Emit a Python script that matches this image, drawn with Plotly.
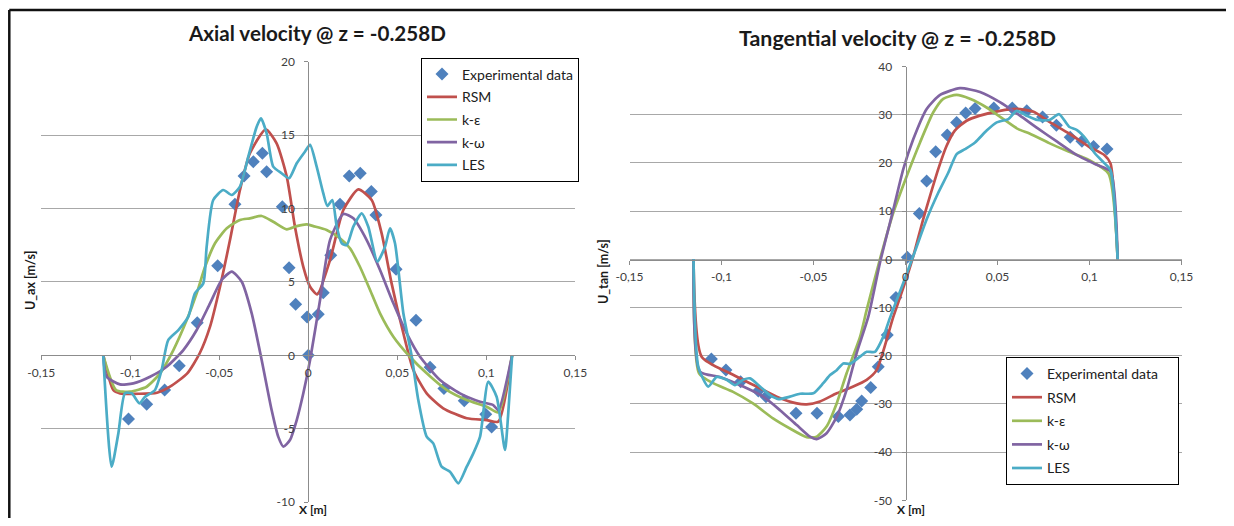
import plotly.graph_objects as go

# ---------------- data ----------------
series_names = ["Experimental data", "RSM", "k-ε", "k-ω", "LES"]
series_colors = ["#4F81BD", "#C0504D", "#9BBB59", "#8064A2", "#4BACC6"]

x_tick_vals = [-0.15, -0.1, -0.05, 0, 0.05, 0.1, 0.15]
x_tick_text = ["-0,15", "-0,1", "-0,05", "0", "0,05", "0,1", "0,15"]
ax_y_tick_vals = [-10, -5, 0, 5, 10, 15, 20]
ax_y_tick_text = ["-10", "-5", "0", "5", "10", "15", "20"]
tan_y_tick_vals = [-50, -40, -30, -20, -10, 0, 10, 20, 30, 40]
tan_y_tick_text = ["-50", "-40", "-30", "-20", "-10", "0", "10", "20", "30", "40"]

# Axial velocity
ax_exp_x = [-0.101, -0.0908, -0.0807, -0.0725, -0.0624, -0.0509, -0.0412, -0.0361, -0.0309, -0.0258,
            -0.0234, -0.0146, -0.0108, -0.0071, -0.0007, 0.0, 0.0056, 0.0084, 0.0126, 0.0178,
            0.0230, 0.0292, 0.0354, 0.0380, 0.0493, 0.0605, 0.0684, 0.0762, 0.0876, 0.0997, 0.1030]
ax_exp_y = [-4.34, -3.34, -2.36, -0.71, 2.22, 6.10, 10.29, 12.21, 13.19, 13.76,
            12.51, 10.12, 5.97, 3.47, 2.61, 0.0, 2.79, 4.26, 6.81, 10.29,
            12.21, 12.40, 11.15, 9.56, 5.86, 2.38, -0.82, -2.27, -3.09, -4.02, -4.88]

ax_rsm_x = [-0.1152, -0.1096, -0.1058, -0.095, -0.085, -0.0777, -0.068, -0.061, -0.0552, -0.0496,
            -0.044, -0.0384, -0.0328, -0.0239, -0.0178, -0.0121, -0.0075, -0.0028, 0.0010, 0.0050,
            0.0122, 0.0197, 0.0281, 0.0356, 0.0412, 0.0468, 0.0534, 0.0590, 0.0665, 0.0758,
            0.0890, 0.1002, 0.1067, 0.1145]
ax_rsm_y = [0, -2.36, -2.59, -2.62, -2.55, -2.14, -1.23, 0.14, 1.95, 4.67,
            7.85, 11.26, 13.76, 15.39, 14.44, 12.17, 8.76, 6.03, 4.67, 4.15,
            6.49, 9.9, 11.3, 10.58, 8.31, 4.9, 1.5, -1.0, -2.59, -3.61,
            -4.29, -4.41, -4.52, 0]

ax_ke_x = [-0.1152, -0.108, -0.1002, -0.0908, -0.0833, -0.0758, -0.0683, -0.0627, -0.058, -0.0524,
           -0.0458, -0.0384, -0.0328, -0.0262, -0.0197, -0.0121, -0.0065, -0.0009, 0.0028, 0.0103,
           0.0178, 0.0234, 0.029, 0.0347, 0.0403, 0.0478, 0.0571, 0.0665, 0.0777, 0.089,
           0.1002, 0.1067, 0.1145]
ax_ke_y = [0, -2.36, -2.48, -2.14, -1.23, 0.36, 2.4, 4.22, 6.03, 7.63,
           8.65, 9.22, 9.33, 9.49, 9.1, 8.58, 8.8, 8.92, 8.8, 8.54,
           7.97, 7.29, 6.03, 4.45, 2.86, 1.27, -0.1, -1.23, -2.36, -3.05,
           -3.5, -3.88, 0]

ax_kw_x = [-0.1152, -0.1133, -0.1058, -0.0983, -0.0889, -0.0796, -0.0702, -0.0627, -0.0552, -0.0487,
           -0.043, -0.0374, -0.0318, -0.0262, -0.0206, -0.0169, -0.014, -0.0103, -0.0065, -0.0028,
           0.001, 0.0066, 0.0122, 0.0197, 0.0253, 0.0328, 0.0403, 0.0478, 0.0553, 0.0628,
           0.074, 0.0852, 0.0965, 0.1039, 0.1067, 0.1145]
ax_kw_y = [0, -1.46, -1.98, -1.91, -1.46, -0.78, 0.36, 1.72, 3.54, 5.13,
           5.7, 5.01, 2.86, -0.32, -3.73, -5.54, -6.22, -5.77, -4.41, -2.59,
           -0.32, 3.77, 7.85, 9.63, 9.33, 7.85, 5.81, 3.54, 1.5, -0.1,
           -1.68, -2.59, -3.16, -3.39, -3.73, 0]

ax_les_x = [-0.1152, -0.1105, -0.1067, -0.103, -0.0992, -0.0949, -0.0917, -0.0861, -0.0824, -0.0787,
            -0.073, -0.0674, -0.0637, -0.059, -0.0571, -0.0534, -0.0478, -0.043, -0.0384, -0.0337,
            -0.029, -0.0266, -0.0234, -0.0197, -0.015, -0.0108, -0.0065, -0.0019, 0.001, 0.0047,
            0.0084, 0.0107, 0.0135, 0.016, 0.0188, 0.0216, 0.0253, 0.03, 0.0337, 0.0388,
            0.0431, 0.0459, 0.0487, 0.0534, 0.058, 0.0618, 0.0665, 0.0702, 0.0749, 0.0796,
            0.0843, 0.089, 0.0927, 0.0965, 0.1011, 0.1058, 0.1105, 0.1122, 0.1145]
ax_les_y = [0, -7.59, -5.31, -2.59, -2.59, -3.27, -2.82, -2.36, -1.0, 1.04,
            1.72, 2.63, 4.22, 4.9, 7.4, 10.58, 11.26, 10.92, 11.49, 13.53,
            15.57, 16.14, 15.12, 12.85, 12.4, 12.06, 13.08, 13.87, 14.33, 12.85,
            11.04, 10.17, 10.58, 8.76, 7.63, 7.51, 8.76, 9.67, 8.76, 6.38,
            7.4, 8.65, 7.63, 2.86, 0.0, -3.05, -5.54, -6.0, -7.59, -7.93,
            -8.72, -7.59, -6.68, -5.54, -1.8, -2.82, -6.45, -4.18, 0]

# Tangential velocity
tan_exp_x = [-0.1055, -0.0976, -0.0896, -0.08, -0.0758, -0.0595, -0.0481, -0.0365, -0.0302, -0.0265,
             -0.0238, -0.0189, -0.0148, -0.0099, -0.0052, 0.001, 0.0075, 0.0115, 0.0164, 0.0227,
             0.0278, 0.0327, 0.0378, 0.0480, 0.0580, 0.0659, 0.0745, 0.082, 0.0895, 0.0959,
             0.1022, 0.1095]
tan_exp_y = [-20.7, -22.97, -25.39, -27.3, -28.5, -31.95, -31.95, -32.6, -32.3, -31.1,
             -29.4, -26.6, -22.3, -15.7, -7.9, 0.4, 9.5, 16.25, 22.3, 25.8,
             28.4, 30.35, 31.3, 31.4, 31.4, 30.8, 29.5, 27.8, 25.3, 24.5,
             23.4, 22.9]

tan_rsm_x = [-0.1152, -0.1108, -0.0954, -0.0809, -0.07, -0.0591, -0.0537, -0.0465, -0.0374, -0.0284,
             -0.0211, -0.0157, -0.0066, -0.0003, 0.0042, 0.0096, 0.0133, 0.0178, 0.0223, 0.0268,
             0.0332, 0.0404, 0.0513, 0.0604, 0.0696, 0.0782, 0.0889, 0.0996, 0.1082, 0.1114, 0.1153]
tan_rsm_y = [0, -20.2, -23.65, -26.4, -28.5, -29.9, -30.1, -29.5, -27.8, -26.4,
             -25.0, -23.0, -11.9, -4.9, 0.6, 8.3, 13.1, 18.7, 23.5, 26.7,
             28.75, 29.8, 30.8, 31.2, 30.6, 28.5, 26.1, 23.4, 21.6, 19.9, 0]

tan_ke_x = [-0.1152, -0.1122, -0.1045, -0.0937, -0.0829, -0.072, -0.0628, -0.0537, -0.0483, -0.0429,
            -0.0374, -0.032, -0.0247, -0.0211, -0.0139, -0.0066, 0.0007, 0.0079, 0.0151, 0.0205,
            0.0278, 0.035, 0.0441, 0.0532, 0.0613, 0.0674, 0.0781, 0.0889, 0.0996, 0.1103, 0.1153]
tan_ke_y = [0, -23.65, -25.7, -27.5, -29.9, -33.0, -35.1, -36.9, -36.8, -34.7,
            -29.9, -23.65, -16.1, -10.5, 0.0, 9.7, 17.3, 24.25, 30.5, 33.3,
            34.1, 33.3, 31.5, 29.1, 27.0, 26.1, 24.1, 22.3, 20.6, 17.8, 0]

tan_kw_x = [-0.1152, -0.1117, -0.1008, -0.0882, -0.0773, -0.0682, -0.0591, -0.0519, -0.0483, -0.0429,
            -0.0374, -0.032, -0.0266, -0.0202, -0.0139, -0.0066, -0.0012, 0.0042, 0.0115, 0.0188,
            0.0296, 0.0405, 0.0513, 0.0622, 0.0717, 0.0824, 0.0932, 0.1039, 0.1114, 0.1153]
tan_kw_y = [0, -23.3, -24.4, -26.4, -28.5, -31.3, -34.4, -36.8, -37.3, -36.1,
            -32.7, -27.1, -19.5, -11.9, -0.75, 10.35, 18.7, 24.9, 31.2, 34.1,
            35.5, 34.7, 32.6, 29.8, 27.2, 24.4, 21.6, 19.6, 18.2, 0]

tan_les_x = [-0.1152, -0.1126, -0.1072, -0.1026, -0.0972, -0.0927, -0.0882, -0.0845, -0.0791, -0.0736,
             -0.0691, -0.0628, -0.0573, -0.0501, -0.0447, -0.041, -0.0374, -0.0338, -0.0302, -0.0247,
             -0.0211, -0.0166, -0.0121, -0.0085, -0.0012, 0.0052, 0.0115, 0.0178, 0.0233, 0.0278,
             0.0323, 0.0378, 0.0441, 0.0496, 0.0559, 0.0604, 0.0653, 0.0717, 0.0782, 0.0835,
             0.0889, 0.0932, 0.0986, 0.1029, 0.1082, 0.1114, 0.1153]
tan_les_y = [0, -22.3, -26.4, -24.4, -25.0, -26.1, -25.0, -24.7, -26.4, -28.2,
             -29.0, -28.5, -27.9, -27.8, -25.7, -24.0, -23.0, -21.6, -21.7, -20.2,
             -19.2, -19.2, -16.1, -12.2, -4.9, 1.7, 8.3, 13.8, 18.0, 21.8,
             22.85, 24.25, 26.7, 28.4, 29.1, 30.8, 29.9, 28.9, 28.9, 30.1,
             27.5, 26.8, 24.7, 22.0, 19.9, 18.5, 0]

# ---------------- layout helpers ----------------
# The page body keeps its default 8 px margin, so the figure is 16 px smaller
# than the window and every reference pixel position is shifted by -8.
PAGE_W, PAGE_H = 1234, 526
BODY = 8
W, H = PAGE_W - 2 * BODY, PAGE_H - 2 * BODY
FONT = "Lato, Carlito, Calibri, sans-serif"


def fx(p):
    return (p - BODY) / W


def fy(p):
    return 1 - (p - BODY) / H


fig = go.Figure()

ax_lines = [(ax_rsm_x, ax_rsm_y), (ax_ke_x, ax_ke_y), (ax_kw_x, ax_kw_y), (ax_les_x, ax_les_y)]
tan_lines = [(tan_rsm_x, tan_rsm_y), (tan_ke_x, tan_ke_y), (tan_kw_x, tan_kw_y), (tan_les_x, tan_les_y)]
# the right-hand legend box is a little wider in the reference: pad its first label
legend_pad = {"legend": "", "legend2": "\u00a0\u00a0\u00a0\u00a0"}

for sub, exp, lines, leg in [("", (ax_exp_x, ax_exp_y), ax_lines, "legend"),
                              ("2", (tan_exp_x, tan_exp_y), tan_lines, "legend2")]:
    xa, ya = "x" + sub, "y" + sub
    fig.add_trace(go.Scatter(x=exp[0], y=exp[1], mode="markers",
                             name=series_names[0] + legend_pad[leg],
                             marker=dict(symbol="diamond", size=10, color=series_colors[0]),
                             xaxis=xa, yaxis=ya, legend=leg, legendgroup=leg + "0"))
    for i, (lx, ly) in enumerate(lines):
        fig.add_trace(go.Scatter(x=lx, y=ly, mode="lines", name=series_names[i + 1],
                                 line=dict(color=series_colors[i + 1], width=2.7,
                                           shape="spline", smoothing=0.6),
                                 xaxis=xa, yaxis=ya, legend=leg, legendgroup=leg + str(i + 1)))

GRID = "#A8A8A8"
AXLINE = "#8C8C8C"
TICKFONT = dict(family=FONT, size=12, color="#404040")

common_x = dict(range=[-0.15, 0.15], anchor="free", tickvals=x_tick_vals, ticktext=x_tick_text,
                showgrid=False, zeroline=False, showline=True, linecolor=AXLINE, linewidth=1,
                ticks="outside", ticklen=4, tickcolor=AXLINE, tickfont=TICKFONT,
                ticklabelstandoff=2, automargin=False)
common_y = dict(anchor="free", showgrid=True, gridcolor=GRID, gridwidth=1.3, zeroline=False,
                showline=True, linecolor=AXLINE, linewidth=1, ticks="outside", ticklen=4,
                tickcolor=AXLINE, tickfont=TICKFONT, ticklabelstandoff=7, automargin=False)

fig.update_layout(
    xaxis=dict(domain=[fx(41.3), fx(575.3)], position=fy(355.3), **common_x),
    yaxis=dict(domain=[fy(502.1), fy(61.7)], range=[-10, 20], position=fx(308.3),
               tickvals=ax_y_tick_vals, ticktext=ax_y_tick_text, **common_y),
    xaxis2=dict(domain=[fx(629.5), fx(1181.5)], position=fy(259.5), **common_x),
    yaxis2=dict(domain=[fy(500.3), fy(66.5)], range=[-50, 40], position=fx(905.5),
                tickvals=tan_y_tick_vals, ticktext=tan_y_tick_text, **common_y),
)

legend_common = dict(xanchor="left", yanchor="top", bordercolor="#000000", borderwidth=1,
                     bgcolor="white", font=dict(family=FONT, size=14, color="#202020"))
fig.update_layout(
    legend=dict(x=fx(421), y=fy(57.5), tracegroupgap=1.5, **legend_common),
    legend2=dict(x=fx(1006), y=fy(357), tracegroupgap=2.4, **legend_common),
)

annos = [
    dict(text="<b>Axial velocity @ z = -0.258D</b>", x=fx(316.5), y=fy(33), size=20.6,
         angle=0, ya="middle"),
    dict(text="<b>Tangential velocity @ z = -0.258D</b>", x=fx(897.5), y=fy(38), size=21.4,
         angle=0, ya="middle"),
    dict(text="<b>U_ax [m/s]</b>", x=fx(30), y=fy(281), size=12.5, angle=-90, ya="middle"),
    dict(text="<b>U_tan [m/s]</b>", x=fx(603), y=fy(272), size=12.5, angle=-90, ya="middle"),
    dict(text="<b>X [m]</b>", x=fx(313), y=fy(518), size=12, angle=0, ya="bottom"),
    dict(text="<b>X [m]</b>", x=fx(910.5), y=fy(518), size=12, angle=0, ya="bottom"),
]
for a in annos:
    fig.add_annotation(text=a["text"], x=a["x"], y=a["y"], xref="paper", yref="paper",
                       xanchor="center", yanchor=a["ya"], showarrow=False, textangle=a["angle"],
                       borderpad=0, font=dict(family=FONT, size=a["size"], color="#1a1a1a"))

# outer frame (left and top border)
fig.add_shape(type="line", xref="paper", yref="paper", x0=fx(9.3), x1=fx(9.3), y0=0, y1=fy(10),
              line=dict(color="#111111", width=2.5))
fig.add_shape(type="line", xref="paper", yref="paper", x0=fx(9.3), x1=1, y0=fy(10), y1=fy(10),
              line=dict(color="#111111", width=2.5))

fig.update_layout(width=W, height=H, margin=dict(l=0, r=0, t=0, b=0, autoexpand=False),
                  paper_bgcolor="white", plot_bgcolor="white",
                  font=dict(family=FONT))

fig.write_html("out.html", config={"displayModeBar": False})
